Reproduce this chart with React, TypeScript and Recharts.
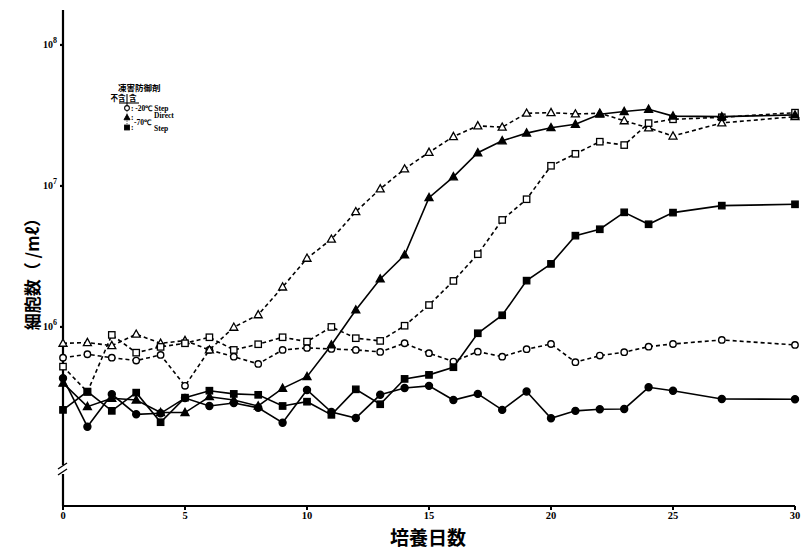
import React from "react";
import { LineChart, Line, XAxis, YAxis } from "recharts";

/* ── Data (cells / mℓ) ──────────────────────────────────────── */

const days = [0, 1, 2, 3, 4, 5, 6, 7, 8, 9, 10, 11, 12, 13, 14, 15, 16, 17, 18, 19, 20, 21, 22, 23, 24, 25, 27, 30];

// ○ -20℃ Step, 不含
const m20StepNo = [6.05e5, 6.4e5, 6.05e5, 5.77e5, 6.33e5, 3.82e5, 6.87e5, 6.15e5, 5.47e5, 6.87e5, 7.1e5, 6.98e5, 6.87e5, 6.65e5, 7.66e5, 6.51e5, 5.68e5, 6.68e5, 6.15e5, 6.95e5, 7.57e5, 5.62e5, 6.26e5, 6.62e5, 7.25e5, 7.57e5, 8.09e5, 7.45e5];
// ● -20℃ Step, 含
const m20StepYes = [4.33e5, 1.96e5, 3.33e5, 2.4e5, 2.44e5, 3.13e5, 2.75e5, 2.89e5, 2.67e5, 2.09e5, 3.57e5, 2.49e5, 2.26e5, 3.3e5, 3.69e5, 3.82e5, 3.03e5, 3.35e5, 2.58e5, 3.48e5, 2.25e5, 2.54e5, 2.61e5, 2.62e5, 3.73e5, 3.53e5, 3.08e5, 3.07e5];
// △ -70℃ Direct, 不含
const m70DirectNo = [7.66e5, 7.74e5, 7.37e5, 8.88e5, 7.66e5, 8.0e5, 6.87e5, 9.95e5, 1.22e6, 1.92e6, 3.07e6, 4.19e6, 6.57e6, 9.53e6, 1.32e7, 1.73e7, 2.24e7, 2.67e7, 2.61e7, 3.28e7, 3.31e7, 3.24e7, 3.28e7, 2.9e7, 2.58e7, 2.26e7, 2.8e7, 3.1e7];
// ▲ -70℃ Direct, 含
const m70DirectYes = [3.99e5, 2.72e5, 3.12e5, 3.03e5, 2.47e5, 2.47e5, 3.2e5, 3.03e5, 2.75e5, 3.67e5, 4.44e5, 7.45e5, 1.32e6, 2.19e6, 3.24e6, 8.26e6, 1.16e7, 1.72e7, 2.09e7, 2.37e7, 2.59e7, 2.74e7, 3.23e7, 3.37e7, 3.5e7, 3.13e7, 3.1e7, 3.19e7];
// □ -70℃ Step, 不含
const m70StepNo = [5.23e5, 3.46e5, 8.78e5, 6.57e5, 7.22e5, 7.66e5, 8.45e5, 6.87e5, 7.54e5, 8.45e5, 7.87e5, 1.0e6, 8.32e5, 7.96e5, 1.02e6, 1.43e6, 2.12e6, 3.28e6, 5.74e6, 8.05e6, 1.39e7, 1.69e7, 2.06e7, 1.95e7, 2.79e7, 2.97e7, 3.07e7, 3.31e7];
// ■ -70℃ Step, 含
const m70StepYes = [2.58e5, 3.48e5, 2.54e5, 3.42e5, 2.11e5, 3.15e5, 3.53e5, 3.35e5, 3.3e5, 2.75e5, 2.95e5, 2.38e5, 3.61e5, 2.83e5, 4.28e5, 4.57e5, 5.18e5, 9.02e5, 1.21e6, 2.13e6, 2.8e6, 4.44e6, 4.93e6, 6.5e6, 5.35e6, 6.47e6, 7.25e6, 7.41e6];

const xTicks = [0, 5, 10, 15, 20, 25, 30];
const yTicks = [1e6, 1e7, 1e8];

const data = days.map((d, i) => ({
  day: d,
  a: m20StepNo[i],
  b: m20StepYes[i],
  c: m70DirectNo[i],
  d: m70DirectYes[i],
  e: m70StepNo[i],
  f: m70StepYes[i],
}));

/* ── Markers ────────────────────────────────────────────────── */

type Shape = "circle" | "triangle" | "square";

function Marker({ cx, cy, shape, filled, s = 1 }: { cx: number; cy: number; shape: Shape; filled: boolean; s?: number }) {
  const fill = filled ? "#000" : "#fff";
  if (shape === "circle")
    return <circle cx={cx} cy={cy} r={(filled ? 3.5 : 3.2) * s} fill={fill} stroke="#000" strokeWidth={1.4 * s} />;
  if (shape === "triangle")
    return (
      <polygon
        points={`${cx},${cy - 4.2 * s} ${cx - 4 * s},${cy + 3 * s} ${cx + 4 * s},${cy + 3 * s}`}
        fill={fill}
        stroke="#000"
        strokeWidth={1.3 * s}
      />
    );
  return <rect x={cx - 3.2 * s} y={cy - 3.2 * s} width={6.4 * s} height={6.4 * s} fill={fill} stroke="#000" strokeWidth={1.3 * s} />;
}

const dotFor = (shape: Shape, filled: boolean, id: string) => (p: any) =>
  p.cx == null ? <g key={`${id}-${p.index}`} /> : <Marker key={`${id}-${p.index}`} cx={p.cx} cy={p.cy} shape={shape} filled={filled} />;

function PowTick({ x, y, payload }: any) {
  const exp = Math.round(Math.log10(payload.value));
  return (
    <text x={x - 1} y={y + 3} textAnchor="end" fontFamily="Liberation Serif" fontSize={10} fontWeight="bold" fill="#000">
      <tspan>10</tspan>
      <tspan dy={-5} fontSize={8}>{exp}</tspan>
    </text>
  );
}

const serif = "Liberation Serif";
const jp = "Noto Sans CJK JP";

export default function App() {
  return (
    <div style={{ position: "absolute", left: 0, top: 0, width: 802, height: 552, background: "#fff" }}>
      <LineChart
        width={802}
        height={552}
        data={data}
        margin={{ top: 10, right: 7, bottom: 16, left: 23 }}
      >
        <XAxis
          dataKey="day"
          type="number"
          domain={[0, 30]}
          ticks={xTicks}
          height={30}
          stroke="#000"
          strokeWidth={2}
          tickSize={4}
          tick={{ fontFamily: serif, fontSize: 10.5, fontWeight: "bold", fill: "#000" }}
        />
        <YAxis
          scale="log"
          domain={[53700, 177000000]}
          allowDataOverflow
          ticks={yTicks}
          width={40}
          stroke="#000"
          strokeWidth={2.2}
          tickSize={3}
          tick={<PowTick />}
        />
        <Line dataKey="a" stroke="#000" strokeWidth={1.6} strokeDasharray="4 3" dot={dotFor("circle", false, "a")} isAnimationActive={false} />
        <Line dataKey="c" stroke="#000" strokeWidth={1.6} strokeDasharray="4 3" dot={dotFor("triangle", false, "c")} isAnimationActive={false} />
        <Line dataKey="e" stroke="#000" strokeWidth={1.6} strokeDasharray="4 3" dot={dotFor("square", false, "e")} isAnimationActive={false} />
        <Line dataKey="b" stroke="#000" strokeWidth={1.6} dot={dotFor("circle", true, "b")} isAnimationActive={false} />
        <Line dataKey="d" stroke="#000" strokeWidth={1.6} dot={dotFor("triangle", true, "d")} isAnimationActive={false} />
        <Line dataKey="f" stroke="#000" strokeWidth={1.6} dot={dotFor("square", true, "f")} isAnimationActive={false} />
      </LineChart>

      {/* Axis titles, axis break and legend */}
      <svg width={802} height={552} style={{ position: "absolute", left: 0, top: 0, pointerEvents: "none" }}>
        <text
          x={31}
          y={270}
          transform="rotate(-90 31 270)"
          textAnchor="middle"
          dominantBaseline="central"
          fontFamily={jp}
          fontSize={17}
          fontWeight="bold"
          fill="#000"
        >
          細胞数（ /mℓ）
        </text>
        <text x={428} y={545} textAnchor="middle" fontFamily={jp} fontSize={19} fontWeight="bold" fill="#000">
          培養日数
        </text>

        {/* y-axis break */}
        <rect x={58} y={465} width={10} height={9} fill="#fff" />
        <line x1={58} y1={469} x2={67} y2={463} stroke="#000" strokeWidth={1.4} />
        <line x1={58} y1={475} x2={67} y2={469} stroke="#000" strokeWidth={1.4} />

        {/* legend */}
        <g fontFamily={serif} fontWeight="bold" fontSize={7.5} fill="#000">
          <text x={118} y={91} fontFamily={jp} fontSize={8.5}>凍害防御剤</text>
          <text x={125.5} y={101} textAnchor="end" fontFamily={jp} fontSize={7.5}>不含</text>
          <text x={129} y={101} fontFamily={jp} fontSize={7.5}>含</text>
          <line x1={119} y1={103} x2={139} y2={103} stroke="#000" strokeWidth={1.1} />
          <line x1={127} y1={94} x2={127} y2={106} stroke="#000" strokeWidth={1.1} />
          <line x1={127} y1={111} x2={127} y2={125} stroke="#000" strokeWidth={0.7} strokeDasharray="1.2 1.2" />
          <Marker cx={127} cy={108} shape="circle" filled={false} s={0.75} />
          <text x={131} y={110.5}>: -20℃ Step</text>
          <Marker cx={127} cy={117.5} shape="triangle" filled={true} s={0.75} />
          <text x={131} y={120}>:</text>
          <text x={154} y={118}>Direct</text>
          <text x={134} y={124.5}>-70℃</text>
          <Marker cx={127} cy={127.5} shape="square" filled={true} s={0.75} />
          <text x={131} y={130}>:</text>
          <text x={154} y={130.5}>Step</text>
        </g>
      </svg>
    </div>
  );
}
